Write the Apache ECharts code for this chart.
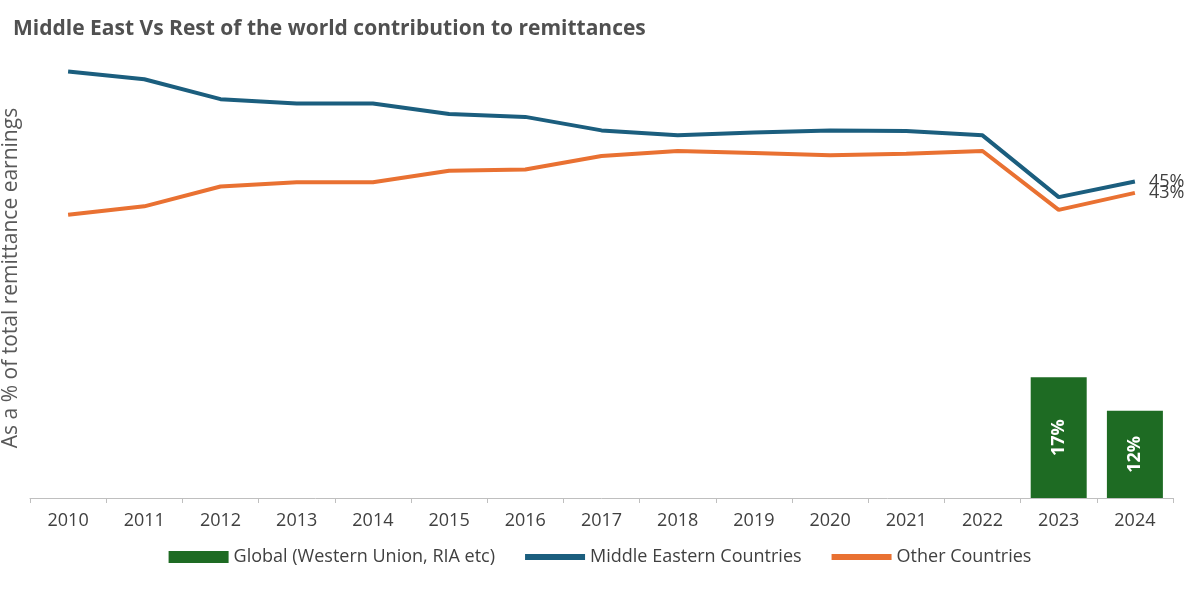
<!DOCTYPE html>
<html><head><meta charset="utf-8">
<script src="https://cdn.jsdelivr.net/npm/echarts@6/dist/echarts.min.js"></script>
<style>html,body{margin:0;padding:0;background:#fff}#c{width:1200px;height:593px}</style>
</head><body><div id="c"></div>
<script>
const years = ['2010','2011','2012','2013','2014','2015','2016','2017','2018','2019','2020','2021','2022','2023','2024'];
const globalShare = [null,null,null,null,null,null,null,null,null,null,null,null,null,17,12.3];
const middleEast = [60.1,59.0,56.2,55.6,55.6,54.1,53.7,51.8,51.1,51.5,51.8,51.7,51.1,42.4,44.6];
const otherCountries = [39.9,41.1,43.9,44.5,44.5,46.1,46.3,48.2,48.9,48.6,48.3,48.5,48.9,40.6,43.0];
const endLabels = {me:'45%', other:'43%'};
const barLabels = ['17%','12%'];

const chart = echarts.init(document.getElementById('c'));
const font = 'Aptos, "Open Sans", "Noto Sans", sans-serif';
function endLabel(txt){
  return {show:true, distance:14, fontSize:18, color:'#404040', fontFamily:font, formatter:()=>txt};
}
const lineIcon = 'path://M0,0H60V6H0Z';
chart.setOption({
  animation:false,
  title:{text:'Middle East Vs Rest of the world contribution to remittances', left:8, top:14,
    textStyle:{fontSize:21, fontWeight:'bold', color:'#505050', fontFamily:font}},
  grid:{left:30, right:27, top:58, bottom:95, containLabel:false, outerBoundsMode:'none'},
  legend:{bottom:22, left:'center', itemWidth:60, itemHeight:12, itemGap:30,
    textStyle:{fontSize:18, color:'#404040', fontFamily:font},
    data:[{name:'Global (Western Union, RIA etc)', icon:'rect'},
          {name:'Middle Eastern Countries', icon:lineIcon, itemHeight:6},
          {name:'Other Countries', icon:lineIcon, itemHeight:6}]},
  xAxis:{type:'category', data:years, boundaryGap:true,
    axisLine:{lineStyle:{color:'#bfbfbf'}}, axisTick:{show:true, lineStyle:{color:'#bfbfbf'}},
    axisLabel:{fontSize:18, color:'#404040', margin:14, fontFamily:font}},
  yAxis:{type:'value', min:0, max:62, show:true, splitLine:{show:false}, axisLine:{show:false},
    axisTick:{show:false}, axisLabel:{show:false},
    name:'As a % of total remittance earnings', nameLocation:'middle', nameGap:8,
    nameTextStyle:{fontSize:21, color:'#595959', fontFamily:font}},
  series:[
    {name:'Global (Western Union, RIA etc)', type:'bar', data:globalShare, barWidth:56,
     itemStyle:{color:'#1e6b23'},
     label:{show:true, position:'inside', rotate:90, color:'#fff', fontWeight:'bold', fontSize:18, fontFamily:font,
       formatter:p=> p.dataIndex===13?barLabels[0]:barLabels[1]}},
    {name:'Middle Eastern Countries', type:'line', data:middleEast, symbol:'none',
     lineStyle:{width:4, color:'#1b5e7e'}, itemStyle:{color:'#1b5e7e'}, endLabel:endLabel(endLabels.me)},
    {name:'Other Countries', type:'line', data:otherCountries, symbol:'none',
     lineStyle:{width:4, color:'#e97132'}, itemStyle:{color:'#e97132'}, endLabel:endLabel(endLabels.other)}
  ]
});
</script></body></html>
